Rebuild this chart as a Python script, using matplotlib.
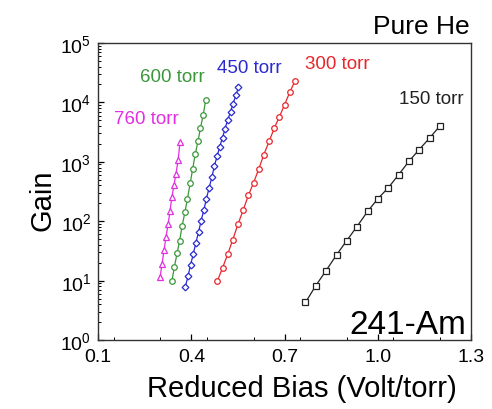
import numpy as np
import matplotlib
matplotlib.use("Agg")
import matplotlib.pyplot as plt
from matplotlib.ticker import LogLocator, MultipleLocator, NullFormatter

plt.rcParams['font.family'] = ['Liberation Sans', 'DejaVu Sans']
plt.rcParams['mathtext.fontset'] = 'custom'
plt.rcParams['mathtext.rm'] = 'Liberation Sans'

# reduced bias (V/torr) and gain for each pressure
bias_760 = [0.299, 0.305, 0.312, 0.318, 0.325, 0.331, 0.337, 0.344, 0.350, 0.357, 0.363]
gain_760 = [11.4, 19.1, 33, 55, 90, 151, 255, 411, 630, 1057, 2158]

bias_600 = [0.337, 0.345, 0.354, 0.362, 0.370, 0.379, 0.387, 0.396, 0.404, 0.412,
            0.421, 0.429, 0.438, 0.446]
gain_600 = [9.8, 17.2, 29.3, 47.3, 84.6, 142, 239, 439, 765, 1333, 2208, 3715, 6220, 11150]

bias_450 = [0.380, 0.389, 0.397, 0.406, 0.414, 0.423, 0.431, 0.440, 0.448, 0.457, 0.466,
            0.474, 0.483, 0.491, 0.500, 0.508, 0.517, 0.526, 0.534, 0.543, 0.551]
gain_450 = [7.8, 12.0, 18.4, 28.2, 43.2, 66.3, 102, 156, 239, 366, 561, 860, 1267, 1797,
            2548, 3614, 5129, 7000, 9550, 13030, 17780]

bias_300 = [0.483, 0.500, 0.517, 0.533, 0.550, 0.567, 0.583, 0.600, 0.617, 0.633, 0.650,
            0.667, 0.683, 0.700, 0.717, 0.733]
gain_300 = [9.8, 16.4, 28.2, 49, 90, 156, 271, 444, 765, 1318, 2208, 3715, 5690, 9180,
            15000, 22700]

bias_150 = [0.767, 0.800, 0.833, 0.867, 0.900, 0.933, 0.967, 1.000, 1.033, 1.067, 1.100,
            1.133, 1.167, 1.200]
gain_150 = [4.3, 8.2, 14.7, 27.1, 47.3, 81.5, 146, 239, 362, 606, 1016, 1600, 2519, 4015]

series = [
    (bias_760, gain_760, '^', '#e22ee2', '760 torr', (0.255, 10**3.73)),
    (bias_600, gain_600, 'o', '#3a973a', '600 torr', (0.339, 10**4.43)),
    (bias_450, gain_450, 'D', '#2a2ad0', '450 torr', (0.586, 10**4.58)),
    (bias_300, gain_300, 'o', '#e8262b', '300 torr', (0.870, 10**4.655)),
    (bias_150, gain_150, 's', '#222222', '150 torr', (1.171, 10**4.06)),
]

fig = plt.figure(figsize=(4.92, 4.10), dpi=100)
ax = fig.add_axes([0.1998, 0.168, 0.7575, 0.725])

for x, y, m, c, name, pos in series:
    ms = 3.4 if m == 'D' else 4.0
    ax.plot(x, y, marker=m, color=c, mfc='white', mec=c, ms=ms, mew=0.9, lw=0.9)
    ax.text(pos[0], pos[1], name, color=c, fontsize=13.5, ha='center', va='center')

ax.set_yscale('log')
ax.set_xlim(0.1, 1.3)
ax.set_ylim(1, 1e5)
ax.set_xticks([0.1, 0.4, 0.7, 1.0, 1.3])
ax.set_xticklabels(['0.1', '0.4', '0.7', '1.0', '1.3'])
ax.xaxis.set_minor_locator(MultipleLocator(0.15))
ax.yaxis.set_major_locator(LogLocator(base=10, numticks=10))
ax.yaxis.set_minor_locator(LogLocator(base=10, subs=np.arange(2, 10), numticks=10))
ax.yaxis.set_minor_formatter(NullFormatter())

ax.tick_params(which='both', direction='in', top=False, right=False, labelsize=14)
ax.tick_params(which='major', length=4, width=0.9)
ax.tick_params(which='minor', length=2.2, width=0.7)
ax.tick_params(axis='x', pad=6)
ax.tick_params(axis='y', pad=5)
for s in ax.spines.values():
    s.set_linewidth(1.0)
    s.set_color('#333333')

ax.set_xlabel('Reduced Bias (Volt/torr)', fontsize=21, labelpad=6)
ax.xaxis.label.set_x(0.547)
ax.set_ylabel('Gain', fontsize=21, labelpad=3)
ax.yaxis.label.set_y(0.475)

ax.text(0.987, 0.024, '241-Am', transform=ax.transAxes, fontsize=24,
        ha='right', va='baseline')
fig.text(0.955, 0.917, 'Pure He', fontsize=19, ha='right', va='baseline')

fig.savefig('out.png', dpi=100)
